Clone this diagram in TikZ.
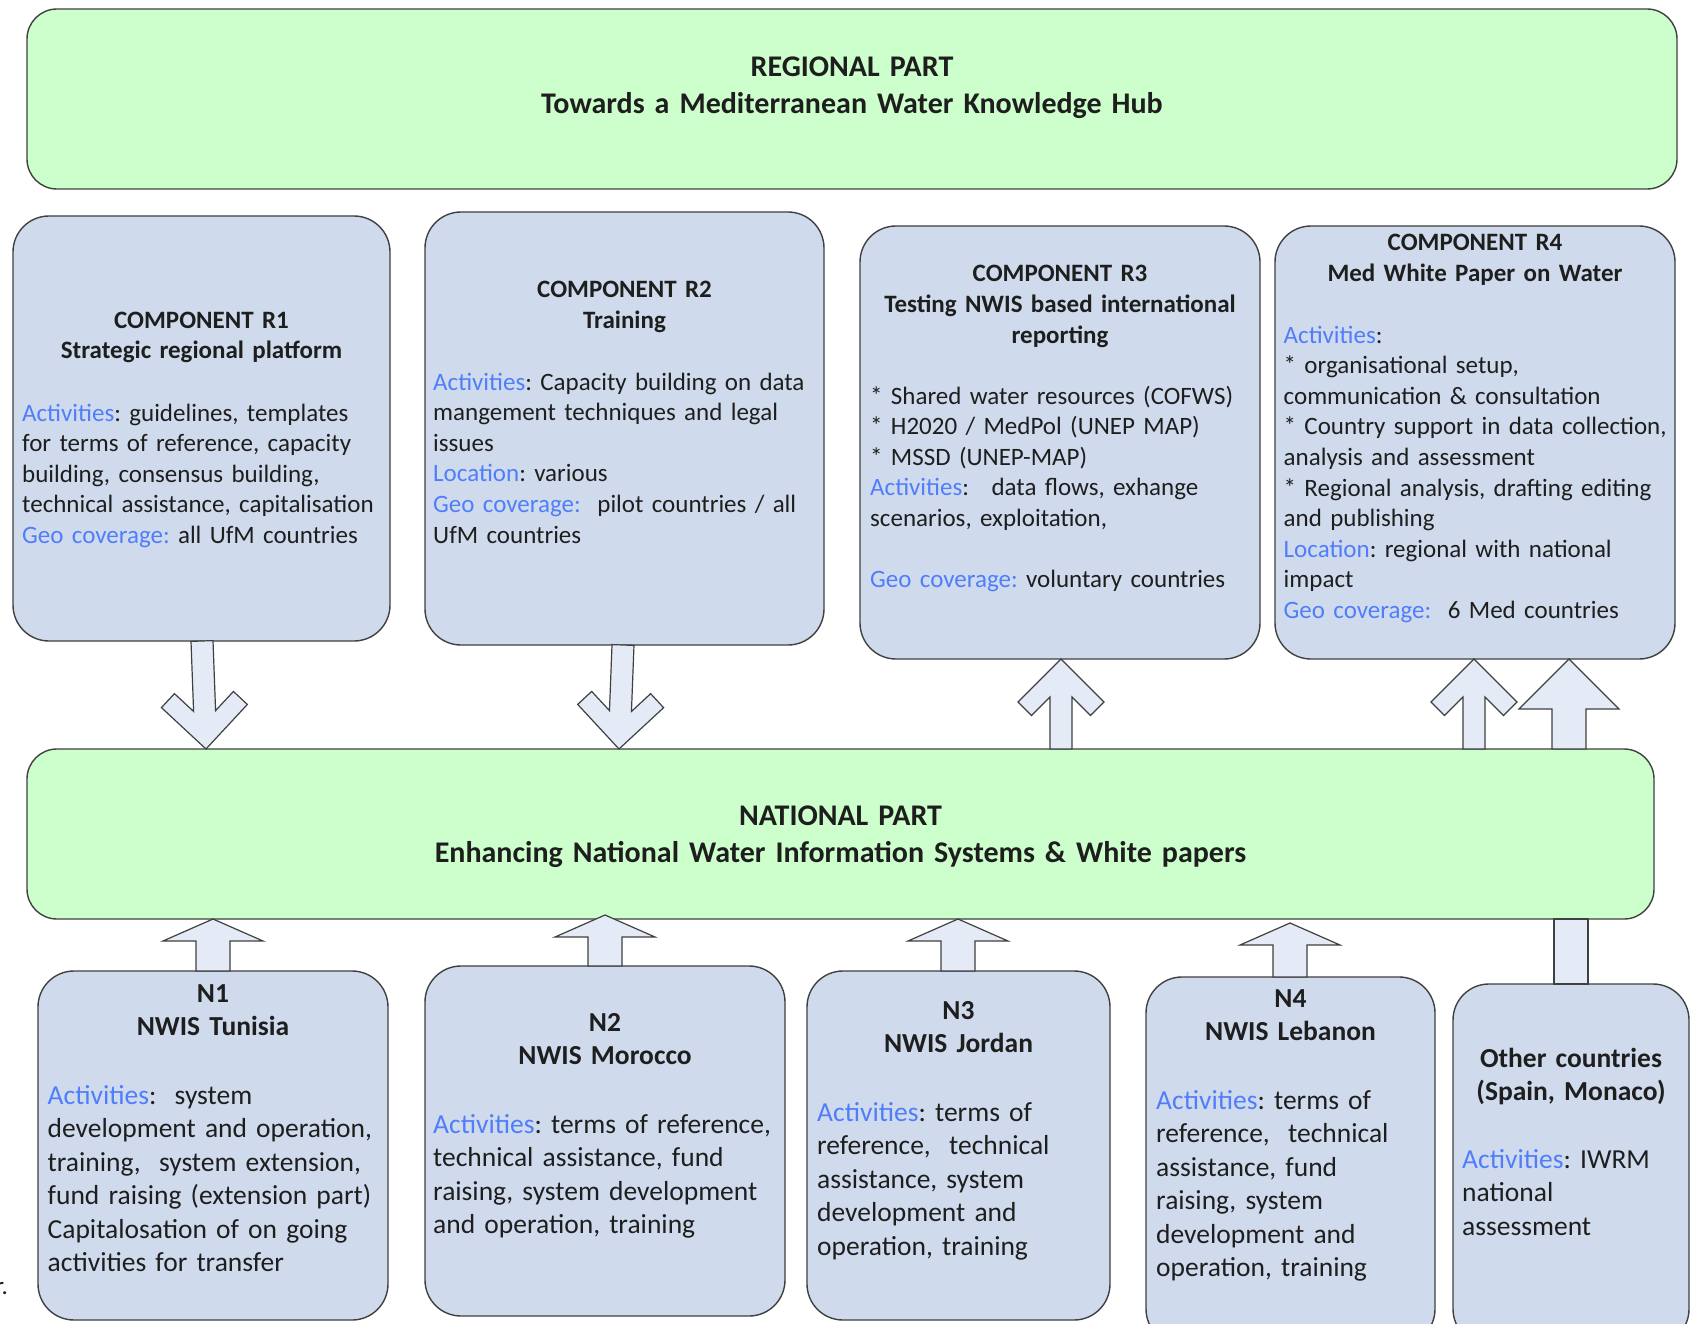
\documentclass[tikz,border=0pt]{standalone}
\usepackage{fontspec}
\setmainfont{Carlito}
\usetikzlibrary{calc}
\frenchspacing
\definecolor{boxblue}{HTML}{CFDBEC}
\definecolor{boxgreen}{HTML}{CCFFCC}
\definecolor{arrfill}{HTML}{E4EBF6}
\definecolor{bordercol}{HTML}{404040}
\definecolor{lblue}{RGB}{80,125,250}
\definecolor{txt}{HTML}{1E1E1E}
\newcommand{\bluetxt}[1]{\textcolor{lblue}{#1}}
\newcommand{\ftop}{\fontsize{25}{30.6}\selectfont}
\newcommand{\fbot}{\fontsize{27.5}{33.5}\selectfont}
\newcommand{\fbig}{\fontsize{30}{37}\selectfont}
% chevron arrow: #1 tail coordinate, #2 tip coordinate
\newcommand{\chevarrow}[2]{%
  \path let \p1=($(#1)-(#2)$), \n1={atan2(\y1,\x1)}, \n2={veclen(\x1,\y1)} in
    \pgfextra{\xdef\arang{\n1}\xdef\arlen{\n2}};
  \begin{scope}[shift={(#2)}, rotate=\arang]
    \draw[arrowst] (0,0) -- (43,43) -- (56.5,29.5) -- (38,11) -- (\arlen,11)
      -- (\arlen,-11) -- (38,-11) -- (56.5,-29.5) -- (43,-43) -- cycle;
  \end{scope}}
% block arrow: #1 tail, #2 tip, #3 head length, #4 head half width, #5 shaft half width
\newcommand{\blkarrow}[5]{%
  \path let \p1=($(#1)-(#2)$), \n1={atan2(\y1,\x1)}, \n2={veclen(\x1,\y1)} in
    \pgfextra{\xdef\arang{\n1}\xdef\arlen{\n2}};
  \begin{scope}[shift={(#2)}, rotate=\arang]
    \draw[arrowst] (0,0) -- (#3,#4) -- (#3,#5) -- (\arlen,#5)
      -- (\arlen,-#5) -- (#3,-#5) -- (#3,-#4) -- cycle;
  \end{scope}}
\tikzset{
  box/.style={draw=bordercol, line width=1.4pt, fill=boxblue, rounded corners=36pt,
    inner sep=0pt, outer sep=0pt},
  gbox/.style={box, fill=boxgreen, rounded corners=30pt},
  arrowst/.style={draw=bordercol, line width=1.2pt, fill=arrfill},
  hdbig/.style={anchor=base, inner sep=0pt, align=center, text width=1600pt,
    font=\fbig\bfseries, text=txt},
  hdtop/.style={anchor=base, inner sep=0pt, align=center, text width=390pt,
    font=\ftop\bfseries, text=txt},
  hdbot/.style={anchor=base, inner sep=0pt, align=center, text width=340pt,
    font=\fbot\bfseries, text=txt},
  bodytop/.style={anchor=base west, inner sep=0pt, align=left, text width=395pt,
    font=\ftop, text=txt},
  bodybot/.style={anchor=base west, inner sep=0pt, align=left, text width=360pt,
    font=\fbot, text=txt},
}
\begin{document}
\begin{tikzpicture}[x=1pt,y=-1pt]
\useasboundingbox (0,0) rectangle (1694,1324);
\fill[white] (0,0) rectangle (1694,1324);

% ---------- Regional part ----------
\node[gbox, minimum width=1650pt, minimum height=180pt] (reg) at (852,99) {};
\node[hdbig] (regt) at (852,77) {REGIONAL PART\\Towards a Mediterranean Water Knowledge Hub};

% ---------- Components ----------
\node[box, minimum width=377pt, minimum height=425pt] (r1) at (201.5,428.5) {};
\node[hdtop] (r1h) at (201.5,328) {COMPONENT R1\\Strategic regional platform};
\node[bodytop] (r1b) at (22,421) {\bluetxt{Activities}: guidelines, templates\\for terms of reference, capacity\\building, consensus building,\\technical assistance, capitalisation\\\bluetxt{Geo coverage:} all UfM countries};

\node[box, minimum width=399pt, minimum height=433pt] (r2) at (624.5,428.5) {};
\node[hdtop] (r2h) at (624.5,298) {COMPONENT R2\\Training};
\node[bodytop] (r2b) at (433,390) {\bluetxt{Activities}: Capacity building on data\\mangement techniques and legal\\issues\\\bluetxt{Location}: various\\\bluetxt{Geo coverage:}\ \ pilot countries / all\\UfM countries};

\node[box, minimum width=400pt, minimum height=433pt] (r3) at (1060,442.5) {};
\node[hdtop] (r3h) at (1060,282) {COMPONENT R3\\Testing NWIS based international\\reporting};
\node[bodytop] (r3b) at (870,404) {* Shared water resources (COFWS)\\{}* H2020 / MedPol (UNEP MAP)\\{}* MSSD (UNEP-MAP)\\\bluetxt{Activities}:\hspace{0.9em}data flows, exhange\\scenarios, exploitation,\\[30.6pt]\bluetxt{Geo coverage:} voluntary countries};

\node[box, minimum width=400pt, minimum height=433pt] (r4) at (1475,442.5) {};
\node[hdtop] (r4h) at (1475,251) {COMPONENT R4\\Med White Paper on Water};
\node[bodytop] (r4b) at (1283.5,343) {\bluetxt{Activities}:\\{}* organisational setup,\\communication \& consultation\\{}* Country support in data collection,\\analysis and assessment\\{}* Regional analysis, drafting editing\\and publishing\\\bluetxt{Location}: regional with national\\impact\\\bluetxt{Geo coverage:}\ \ 6 Med countries};

% ---------- National part ----------
\node[gbox, minimum width=1627pt, minimum height=170pt] (nat) at (840.5,834) {};
\node[hdbig] (natt) at (840.5,825) {NATIONAL PART\\Enhancing National Water Information Systems \& White papers};

% ---------- National components ----------
\node[box, minimum width=350pt, minimum height=349pt] (n1) at (213,1145.5) {};
\node[hdbot] (n1h) at (213,1002) {N1\\NWIS Tunisia};
\node[bodybot] (n1b) at (47.5,1104) {\bluetxt{Activities}:\ \ system\\development and operation,\\training,\ \ system extension,\\fund raising (extension part)\\Capitalosation of on going\\activities for transfer};

\node[box, minimum width=360pt, minimum height=350pt] (n2) at (605,1141) {};
\node[hdbot] (n2h) at (605,1031) {N2\\NWIS Morocco};
\node[bodybot] (n2b) at (433,1133) {\bluetxt{Activities}: terms of reference,\\technical assistance, fund\\raising, system development\\and operation, training};

\node[box, minimum width=303pt, minimum height=349pt] (n3) at (958.5,1145.5) {};
\node[hdbot] (n3h) at (958.5,1019) {N3\\NWIS Jordan};
\node[bodybot] (n3b) at (817,1121) {\bluetxt{Activities}: terms of\\reference,\ \ technical\\assistance, system\\development and\\operation, training};

\node[box, minimum width=289pt, minimum height=368pt] (n4) at (1290.5,1161) {};
\node[hdbot] (n4h) at (1290.5,1007) {N4\\NWIS Lebanon};
\node[bodybot] (n4b) at (1156,1109) {\bluetxt{Activities}: terms of\\reference,\ \ technical\\assistance, fund\\raising, system\\development and\\operation, training};

\node[box, minimum width=236pt, minimum height=361pt] (oth) at (1571,1164.5) {};
\node[hdbot] (othh) at (1571,1067) {Other countries\\(Spain, Monaco)};
\node[bodybot] (othb) at (1462,1168) {\bluetxt{Activities}: IWRM\\national\\assessment};

\node[anchor=base east, inner sep=0pt, font=\ftop, text=txt] (stray) at (8,1294) {r.};

% ---------- Arrows ----------
\coordinate (a1s) at ($(r1.south)+(0.5,0)$);
\coordinate (a1t) at (206,749);
\coordinate (a2s) at ($(r2.south)+(-1.5,0)$);
\coordinate (a2t) at (619,749);
\coordinate (a3s) at (1061,749);
\coordinate (a3t) at ($(r3.south)+(1,0)$);
\coordinate (a4s) at (1474,749);
\coordinate (a4t) at (1474,659);
\coordinate (a5s) at (1569,749);
\coordinate (a5t) at (1569,659);
\chevarrow{a1s}{a1t}
\chevarrow{a2s}{a2t}
\chevarrow{a3s}{a3t}
\chevarrow{a4s}{a4t}
\blkarrow{a5s}{a5t}{50}{50}{17}

\coordinate (b1s) at (n1.north);
\coordinate (b1t) at (213,919);
\coordinate (b2s) at (n2.north);
\coordinate (b2t) at (605,915);
\coordinate (b3s) at (958,971);
\coordinate (b3t) at (958,919);
\coordinate (b4s) at (1290,977);
\coordinate (b4t) at (1290,923);
\blkarrow{b1s}{b1t}{22}{50}{17}
\blkarrow{b2s}{b2t}{22}{50}{17}
\blkarrow{b3s}{b3t}{22}{50}{17}
\blkarrow{b4s}{b4t}{22}{50}{17}

\coordinate (oc1) at (1554,919);
\coordinate (oc2) at (1588,984);
\draw[arrowst] (oc1) rectangle (oc2);
\end{tikzpicture}
\end{document}
